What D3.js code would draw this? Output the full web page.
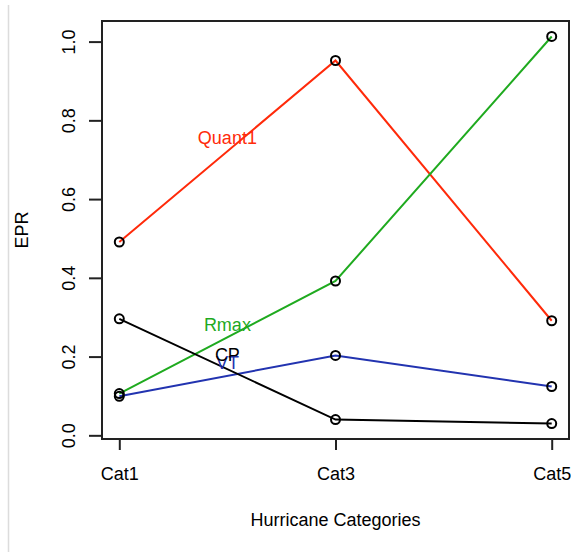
<!DOCTYPE html>
<html>
<head>
<meta charset="utf-8">
<script src="https://cdn.jsdelivr.net/npm/d3@7"></script>
<style>
  html, body { margin: 0; padding: 0; background: #fff; }
  svg { display: block; }
  text { font-family: "Liberation Sans", Arial, sans-serif; }
</style>
</head>
<body>
<svg id="chart" width="571" height="552"></svg>
<script>
// ---- data ----
const categories = ["Cat1", "Cat3", "Cat5"];
const categoryX = [1, 2, 3];
const seriesNames = ["Quant1", "Rmax", "VT", "CP"];
const quant1 = [0.491, 0.952, 0.291];
const rmax = [0.106, 0.392, 1.013];
const vt = [0.099, 0.203, 0.124];
const cp = [0.296, 0.040, 0.030];
const seriesColors = ["#ff2a0a", "#1faa1f", "#2233b0", "#000000"];
const labelX = [1.5, 1.5, 1.5, 1.5];
const labelY = [0.757, 0.282, 0.185, 0.206];
const yTicks = [0.0, 0.2, 0.4, 0.6, 0.8, 1.0];
const xTitle = "Hurricane Categories";
const yTitle = "EPR";

const seriesValues = [quant1, rmax, vt, cp];

// ---- layout ----
const svg = d3.select("#chart");
const box = { left: 102, right: 569, top: 21, bottom: 439 };
const FS = 18;

const allVals = seriesValues.flat();
const yMin = d3.min(allVals), yMax = d3.max(allVals);
const yExt = (yMax - yMin) * 0.04;
const xExt = (3 - 1) * 0.04;

const x = d3.scaleLinear().domain([1 - xExt, 3 + xExt]).range([box.left, box.right]);
const y = d3.scaleLinear().domain([yMin - yExt, yMax + yExt]).range([box.bottom, box.top]);

// faint left border line
svg.append("line")
  .attr("x1", 8.5).attr("x2", 8.5).attr("y1", 5).attr("y2", 552)
  .attr("stroke", "#dcdcdc").attr("stroke-width", 1.5);

// plot lines
const line = d3.line().x((d, i) => x(categoryX[i])).y(d => y(d));
seriesValues.forEach((vals, si) => {
  svg.append("path")
    .datum(vals)
    .attr("d", line)
    .attr("fill", "none")
    .attr("stroke", seriesColors[si])
    .attr("stroke-width", 2);
});

// points (open circles)
seriesValues.forEach((vals, si) => {
  svg.selectAll(null)
    .data(vals)
    .enter().append("circle")
    .attr("cx", (d, i) => x(categoryX[i]))
    .attr("cy", d => y(d))
    .attr("r", 4.5)
    .attr("fill", "none")
    .attr("stroke", "#000")
    .attr("stroke-width", 2);
});

// series text labels
seriesNames.forEach((name, si) => {
  svg.append("text")
    .attr("x", x(labelX[si]))
    .attr("y", y(labelY[si]))
    .attr("dy", "0.36em")
    .attr("text-anchor", "middle")
    .attr("font-size", FS)
    .attr("fill", seriesColors[si])
    .text(name);
});

// box
svg.append("rect")
  .attr("x", box.left).attr("y", box.top)
  .attr("width", box.right - box.left).attr("height", box.bottom - box.top)
  .attr("fill", "none").attr("stroke", "#222").attr("stroke-width", 2);

// y axis
const yAxis = d3.axisLeft(y)
  .tickValues(yTicks)
  .tickSize(13)
  .tickPadding(0)
  .tickFormat(d3.format(".1f"));
const yg = svg.append("g").attr("transform", `translate(${box.left},0)`).call(yAxis);
yg.select(".domain").remove();
yg.selectAll(".tick line").attr("stroke", "#222").attr("stroke-width", 2);
yg.selectAll(".tick text")
  .attr("x", null).attr("dy", null)
  .attr("font-size", FS)
  .attr("font-family", "Liberation Sans, Arial, sans-serif")
  .attr("fill", "#000")
  .attr("text-anchor", "middle")
  .attr("transform", "translate(-34,0) rotate(-90) translate(0,6.5)");

// x axis
const xAxis = d3.axisBottom(x)
  .tickValues(categoryX)
  .tickSize(11)
  .tickPadding(0)
  .tickFormat((d, i) => categories[i]);
const xg = svg.append("g").attr("transform", `translate(0,${box.bottom})`).call(xAxis);
xg.select(".domain").remove();
xg.selectAll(".tick line").attr("stroke", "#222").attr("stroke-width", 2);
xg.selectAll(".tick text")
  .attr("y", 41).attr("dy", null)
  .attr("font-size", FS)
  .attr("font-family", "Liberation Sans, Arial, sans-serif")
  .attr("fill", "#000");

// axis titles
svg.append("text")
  .attr("x", (box.left + box.right) / 2)
  .attr("y", 526)
  .attr("text-anchor", "middle")
  .attr("font-size", FS)
  .attr("fill", "#000")
  .text(xTitle);

svg.append("text")
  .attr("transform", `translate(28,${(box.top + box.bottom) / 2}) rotate(-90)`)
  .attr("text-anchor", "middle")
  .attr("font-size", FS)
  .attr("fill", "#000")
  .text(yTitle);
</script>
</body>
</html>
